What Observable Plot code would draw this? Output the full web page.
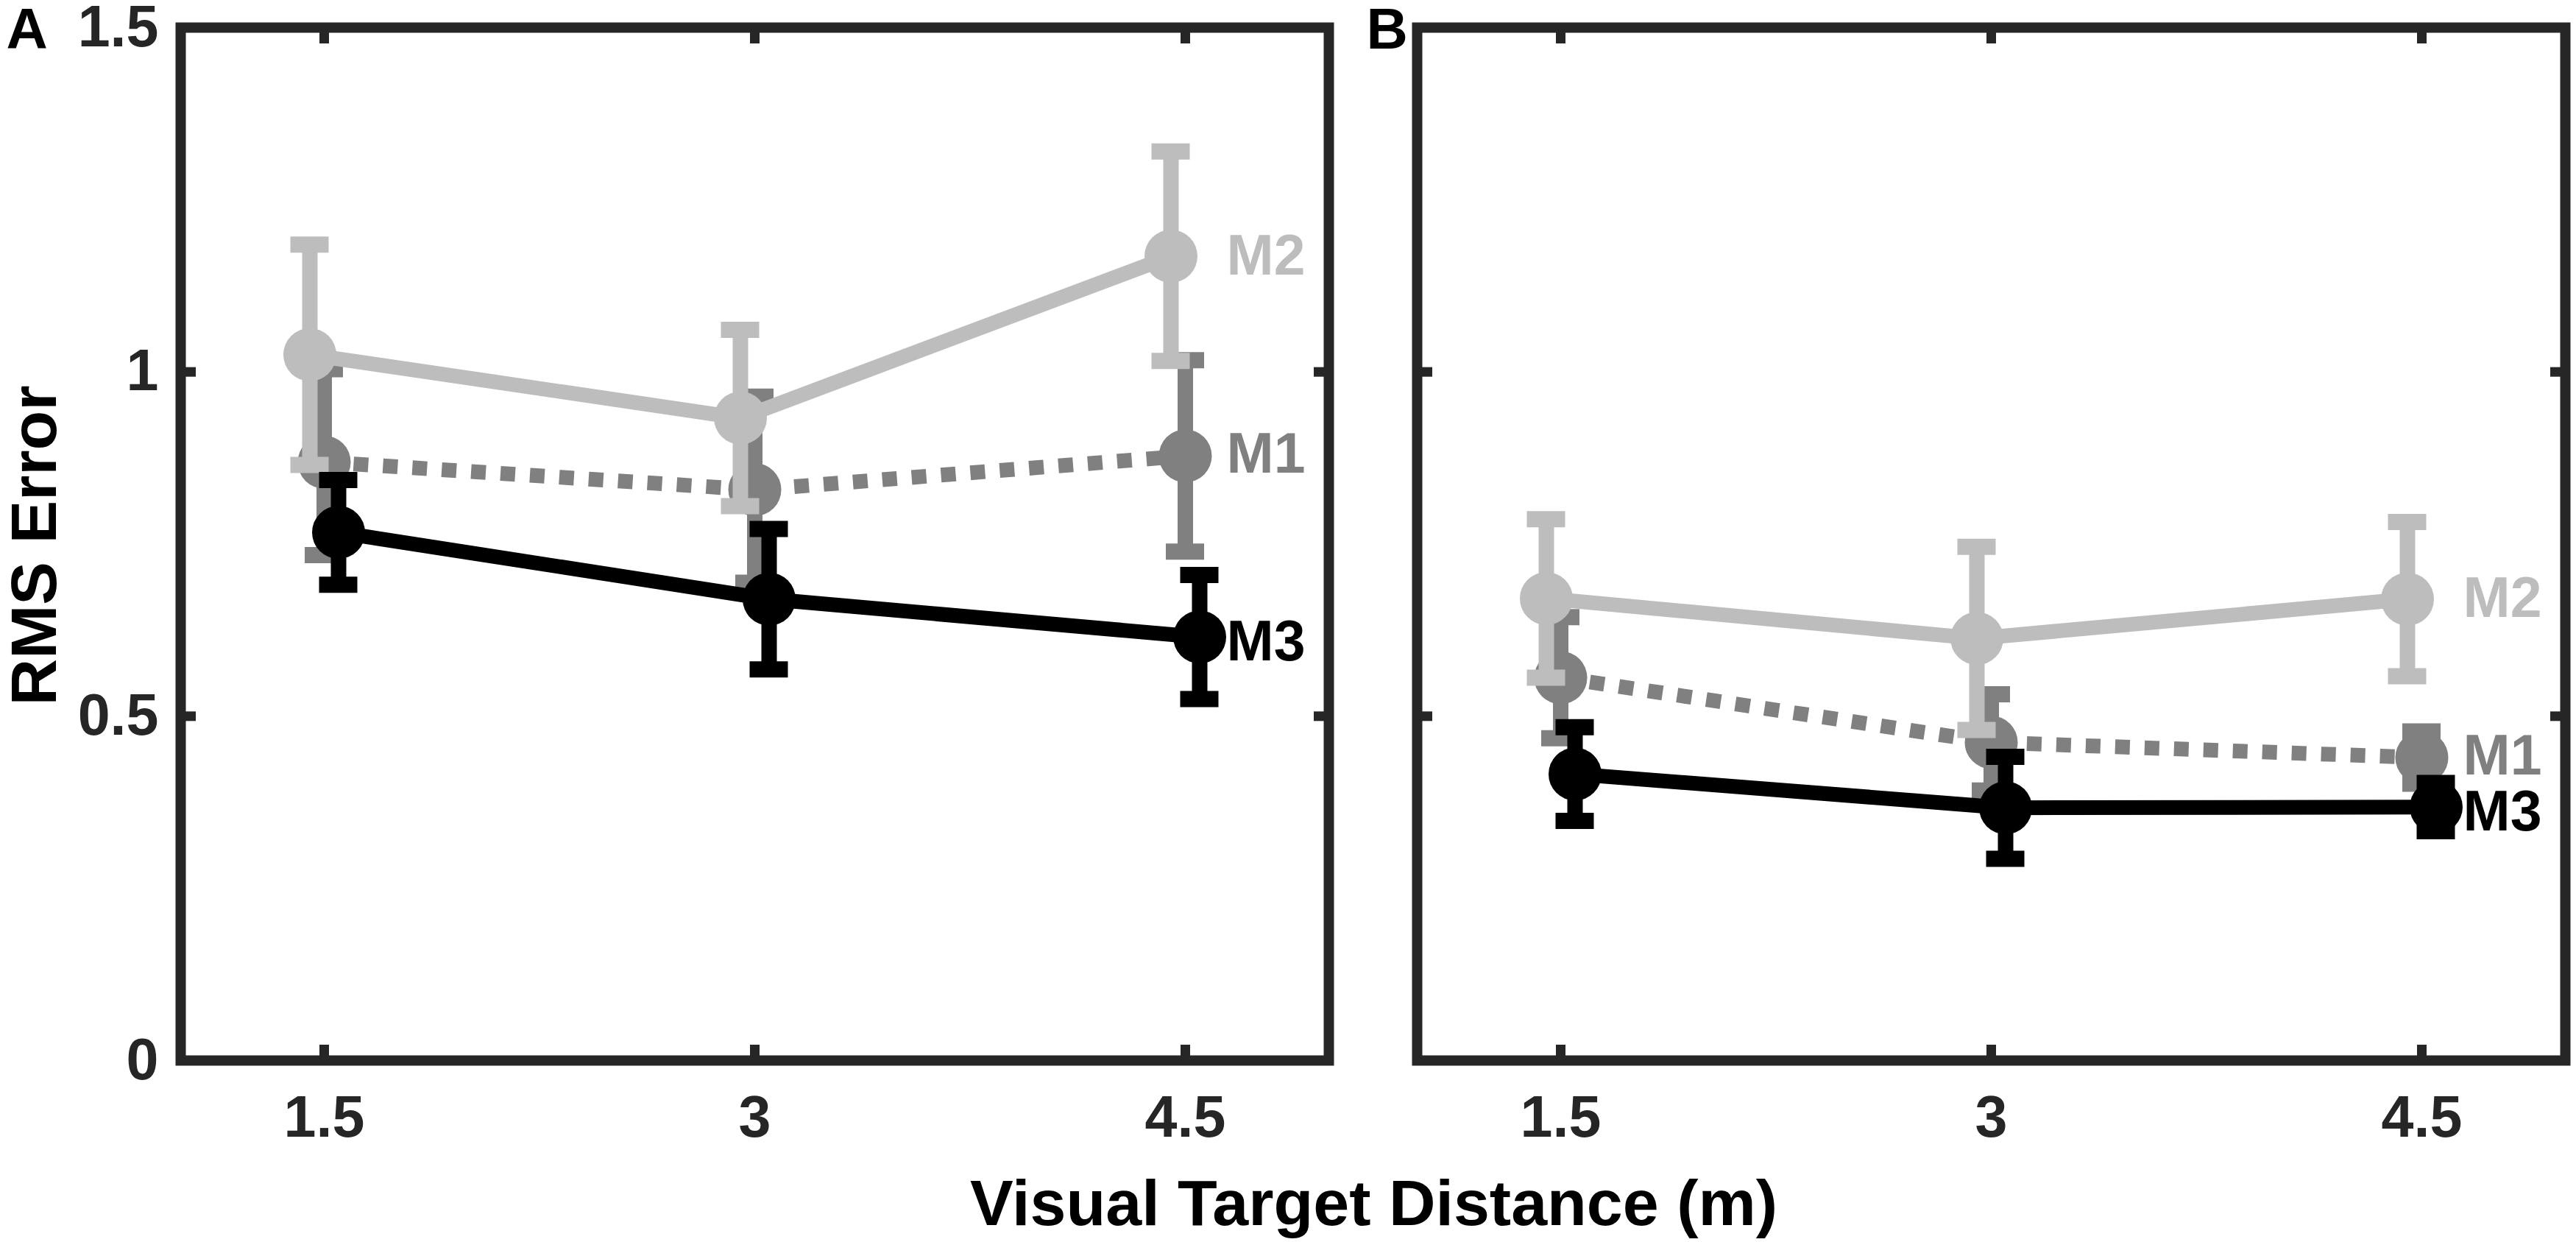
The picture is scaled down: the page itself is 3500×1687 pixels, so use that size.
<!DOCTYPE html>
<html>
<head>
<meta charset="utf-8">
<script src="https://cdn.jsdelivr.net/npm/d3@7"></script>
<script src="https://cdn.jsdelivr.net/npm/@observablehq/plot@0.6"></script>
<style>
  html, body { margin: 0; padding: 0; background: #ffffff; }
  #chart svg { display: block; }
</style>
</head>
<body>
<div id="chart"></div>
<script>
// ---- data ----
const panels = ["A", "B"];
const distances = [1.5, 3, 4.5];
const seriesNames = ["M1", "M2", "M3"];
const seriesOffsets = [0, -0.05, 0.05];
const seriesColors = ["#808080", "#bdbdbd", "#000000"];
const seriesDash = ["20,20", null, null];
const labelShift = [-2, 0, 7];

// Panel A
const meanA_M1 = [0.869, 0.829, 0.878];
const errA_M1  = [0.135, 0.135, 0.139];
const meanA_M2 = [1.025, 0.933, 1.168];
const errA_M2  = [0.160, 0.128, 0.152];
const meanA_M3 = [0.767, 0.670, 0.615];
const errA_M3  = [0.076, 0.102, 0.090];

// Panel B
const meanB_M1 = [0.556, 0.462, 0.440];
const errB_M1  = [0.088, 0.070, 0.038];
const meanB_M2 = [0.671, 0.613, 0.670];
const errB_M2  = [0.115, 0.133, 0.112];
const meanB_M3 = [0.416, 0.367, 0.368];
const errB_M3  = [0.068, 0.074, 0.035];

const yTicks = [0, 0.5, 1, 1.5];
const xTicks = [1.5, 3, 4.5];
const xDomain = [1, 5];
const yDomain = [0, 1.5];
const xLabel = "Visual Target Distance (m)";
const yLabel = "RMS Error";

// ---- tidy table ----
const table = {
  A: {M1: [meanA_M1, errA_M1], M2: [meanA_M2, errA_M2], M3: [meanA_M3, errA_M3]},
  B: {M1: [meanB_M1, errB_M1], M2: [meanB_M2, errB_M2], M3: [meanB_M3, errB_M3]}
};
const rows = [];
for (const p of panels) {
  seriesNames.forEach((s, si) => {
    const [m, e] = table[p][s];
    distances.forEach((d, i) => {
      rows.push({panel: p, series: s, dist: d, xpos: d + seriesOffsets[si], mean: m[i], err: e[i], last: i === distances.length - 1});
    });
  });
}

const FONT = "'Liberation Sans', Arial, Helvetica, sans-serif";
const AX = "#262626";
const TICKFS = 79;

const seriesMarks = seriesNames.flatMap((s, si) => {
  const data = rows.filter(r => r.series === s);
  const color = seriesColors[si];
  return [
    Plot.line(data, {fx: "panel", x: "xpos", y: "mean", stroke: color, strokeWidth: 20,
      strokeDasharray: seriesDash[si], strokeLinecap: "butt", strokeLinejoin: "miter"}),
    Plot.ruleX(data, {fx: "panel", x: "xpos", y1: d => d.mean - d.err, y2: d => d.mean + d.err,
      stroke: color, strokeWidth: 21}),
    Plot.ruleY(data, {fx: "panel", y: d => d.mean + d.err, x1: "xpos", x2: "xpos",
      insetLeft: -26, insetRight: -26, stroke: color, strokeWidth: 22}),
    Plot.ruleY(data, {fx: "panel", y: d => d.mean - d.err, x1: "xpos", x2: "xpos",
      insetLeft: -26, insetRight: -26, stroke: color, strokeWidth: 22}),
    Plot.dot(data, {fx: "panel", x: "xpos", y: "mean", r: 36, fill: color, stroke: "none"}),
    Plot.text(data.filter(d => d.last), {fx: "panel", x: "dist", y: "mean", text: "series",
      dx: 56, dy: labelShift[si], textAnchor: "start", fill: color, fontSize: 77, fontWeight: "bold"})
  ];
});

const tickOpts = {tickSize: -21, strokeWidth: 13, stroke: AX, fill: "none", facetAnchor: null, label: null};

const chart = Plot.plot({
  width: 3500,
  height: 1687,
  marginLeft: 245,
  marginRight: 14,
  marginTop: 37,
  marginBottom: 247,
  style: {fontFamily: FONT, background: "#ffffff", color: AX, overflow: "visible"},
  fx: {domain: panels, paddingInner: 0.0714, paddingOuter: 0, axis: null, label: null},
  x: {domain: xDomain},
  y: {domain: yDomain},
  marks: [
    ...seriesMarks,
    // inward ticks on all four sides
    Plot.axisY({ticks: yTicks, anchor: "left", ...tickOpts}),
    Plot.axisY({ticks: yTicks, anchor: "right", ...tickOpts}),
    Plot.axisX({ticks: xTicks, anchor: "bottom", ...tickOpts}),
    Plot.axisX({ticks: xTicks, anchor: "top", ...tickOpts}),
    // tick labels
    Plot.axisY({ticks: yTicks, anchor: "left", tickSize: 0, tickPadding: 30, tickFormat: d => String(d),
      fontSize: TICKFS, fontWeight: "bold", fill: AX, label: null}),
    Plot.axisX({ticks: xTicks, anchor: "bottom", tickSize: 0, tickPadding: 47, tickFormat: d => String(d),
      fontSize: TICKFS, fontWeight: "bold", fill: AX, label: null}),
    // frame
    Plot.frame({stroke: AX, strokeWidth: 14}),
    // panel letters
    Plot.text(["A"], {fx: d => d, text: d => d, frameAnchor: "top-left", dx: -237, dy: 28,
      lineAnchor: "bottom", textAnchor: "start", fontSize: 78, fontWeight: "bold", fill: "#000"}),
    Plot.text(["B"], {fx: d => d, text: d => d, frameAnchor: "top-left", dx: -69, dy: 28,
      lineAnchor: "bottom", textAnchor: "start", fontSize: 78, fontWeight: "bold", fill: "#000"}),
    // axis titles
    Plot.text([yLabel], {fx: () => "A", text: d => d, frameAnchor: "left", dx: -170, dy: 2, rotate: -90,
      lineAnchor: "bottom", textAnchor: "middle", fontSize: 88, fontWeight: "bold", fill: "#000"}),
    Plot.text([xLabel], {fx: () => "A", text: d => d, frameAnchor: "bottom-right", dx: 61, dy: 223,
      lineAnchor: "bottom", textAnchor: "middle", fontSize: 88, fontWeight: "bold", fill: "#000"})
  ]
});

document.getElementById("chart").appendChild(chart);
</script>
</body>
</html>
